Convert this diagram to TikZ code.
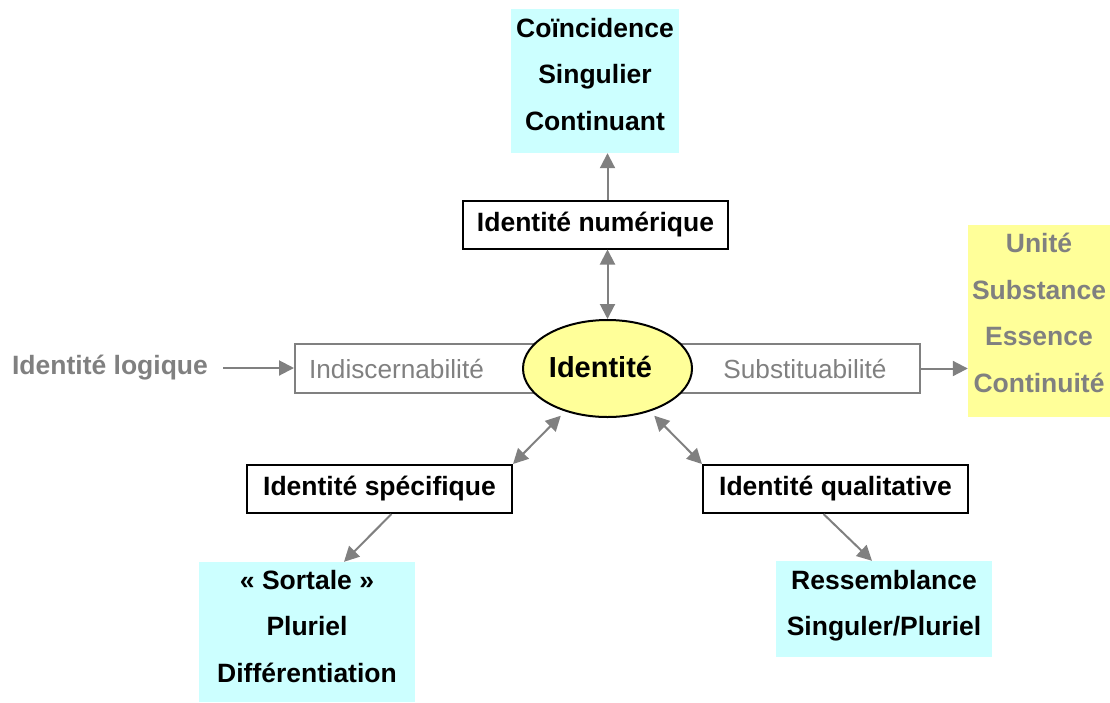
\documentclass[tikz,border=0pt]{standalone}
\usepackage{fontspec}
\setmainfont{Liberation Sans}
\usetikzlibrary{arrows.meta,shapes.geometric}
\definecolor{gristexte}{HTML}{808080}
\definecolor{cyanpale}{HTML}{CCFFFF}
\definecolor{jaunepale}{HTML}{FFFF99}

\begin{document}
\begin{tikzpicture}[x=1pt,y=-1pt]
\tikzstyle{every node}=[font=\fontsize{26.5}{46.5}\selectfont\bfseries,inner sep=0pt];
\tikzstyle{notion}=[draw=black,line width=2pt,fill=white,minimum width=265pt,minimum height=48pt];
\tikzstyle{liste}=[align=center];
\tikzstyle{gris}=[text=gristexte,font=\fontsize{26.2}{30}\selectfont];
\tikzstyle{fleche}=[draw=gristexte,line width=2pt,-{Triangle[length=15pt,width=15pt]}];
\tikzstyle{flechedouble}=[fleche,{Triangle[length=15pt,width=15pt]}-{Triangle[length=15pt,width=15pt]}];
\useasboundingbox (0,0) rectangle (1110,702);

% haut
\node[fill=cyanpale,minimum width=168pt,minimum height=144pt] (coinc) at (595,81) {};
\node[liste] (coinctxt) at (595,74.5) {Coïncidence\\Singulier\\Continuant};
\node[notion] (numerique) at (595.5,224.5) {Identité numérique};

% centre
\node[draw=gristexte,line width=2pt,minimum width=625pt,minimum height=49pt] (cadre) at (607.5,368.5) {};
\node[gris] (indisc) at (396.5,369) {Indiscernabilité};
\node[gris] (subst) at (805,369) {Substituabilité};
\node[ellipse,draw,line width=2pt,fill=jaunepale,minimum width=169pt,minimum height=97pt] (ident) at (607.5,368.5) {};
\node[font=\fontsize{29}{34}\selectfont\bfseries] (identtxt) at (600.5,367) {Identité};
\node[text=gristexte] (logique) at (110,368) {Identité logique};
\node[fill=jaunepale,minimum width=142pt,minimum height=192pt] (unite) at (1039,321) {};
\node[liste,text=gristexte] (unitetxt) at (1039,313) {Unité\\Substance\\Essence\\Continuité};

% bas
\node[notion] (specifique) at (379.5,489) {Identité spécifique};
\node[notion] (qualitative) at (835.5,489) {Identité qualitative};
\node[fill=cyanpale,minimum width=216pt,minimum height=140pt] (sortale) at (307,632) {};
\node[liste] (sortaletxt) at (307,626.5) {« Sortale »\\Pluriel\\Différentiation};
\node[fill=cyanpale,minimum width=216pt,minimum height=96pt] (ressem) at (884,609) {};
\node[liste] (ressemtxt) at (884,605.5) {Ressemblance\\Singuler/Pluriel};

% fleches
\draw[fleche] (numerique.north -| ident) -- (coinc.south -| ident);
\draw[flechedouble] (numerique.south -| ident) -- (ident.north);
\draw[fleche] ([xshift=15pt]logique.east) -- (logique.east -| cadre.west);
\draw[fleche] (cadre.east) -- (cadre.east -| unite.west);
\draw[flechedouble,shorten >=6pt] (specifique.north east) -- (ident);
\draw[flechedouble,shorten <=6pt] (ident) -- (qualitative.north west);
\draw[fleche] ([xshift=12pt]specifique.south) -- ([xshift=37pt]sortale.north);
\draw[fleche] ([xshift=-12pt]qualitative.south) -- ([xshift=-12pt]ressem.north);
\end{tikzpicture}
\end{document}
